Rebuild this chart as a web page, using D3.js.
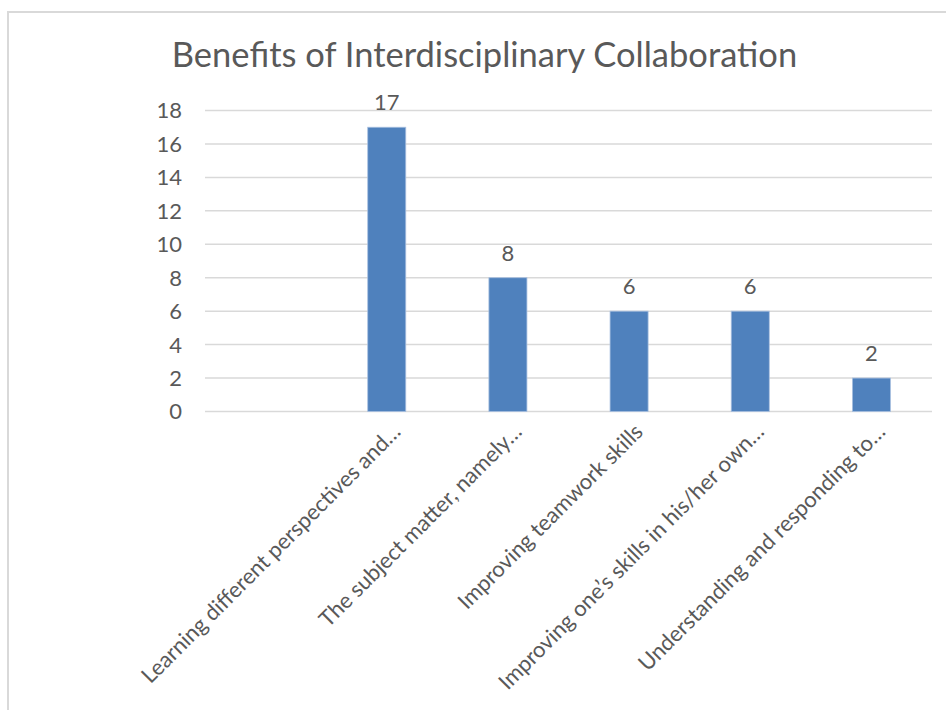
<!DOCTYPE html>
<html>
<head>
<meta charset="utf-8">
<script src="https://cdn.jsdelivr.net/npm/d3@7"></script>
<style>
  html, body { margin: 0; padding: 0; background: #fff; }
  svg { display: block; }
  text { font-family: Lato, "Open Sans", "Liberation Sans", sans-serif; fill: #595959; }
</style>
</head>
<body>
<svg id="chart" width="946" height="710"></svg>
<script>
const title = "Benefits of Interdisciplinary Collaboration";
const categories = [
  "",
  "Learning different perspectives and…",
  "The subject matter, namely…",
  "Improving teamwork skills",
  "Improving one’s skills in his/her own…",
  "Understanding and responding to…"
];
const values = [null, 17, 8, 6, 6, 2];
const yTicks = [0, 2, 4, 6, 8, 10, 12, 14, 16, 18];

const svg = d3.select("#chart");

// chart frame
svg.append("path")
  .attr("d", "M8,712 L8,12 L950,12")
  .attr("fill", "none")
  .attr("stroke", "#d9d9d9")
  .attr("stroke-width", 2);

const plot = { left: 205, right: 932, top: 110.5, bottom: 411.5 };

const x = d3.scaleBand()
  .domain(categories.map((d, i) => i))
  .range([plot.left, plot.right])
  .paddingInner(0.686)
  .paddingOuter(0.343);

const y = d3.scaleLinear()
  .domain([0, 18])
  .range([plot.bottom, plot.top]);

// gridlines
svg.append("g")
  .selectAll("line")
  .data(yTicks)
  .join("line")
  .attr("x1", plot.left)
  .attr("x2", plot.right)
  .attr("y1", d => y(d))
  .attr("y2", d => y(d))
  .attr("stroke", "#d9d9d9")
  .attr("stroke-width", 1.5);

// y tick labels
svg.append("g")
  .selectAll("text")
  .data(yTicks)
  .join("text")
  .attr("x", 182)
  .attr("y", d => y(d))
  .attr("dy", "0.36em")
  .attr("text-anchor", "end")
  .attr("font-size", 22)
  .text(d => d);

const data = categories.map((c, i) => ({ c, i, v: values[i] }));

// bars
svg.append("g")
  .selectAll("rect")
  .data(data.filter(d => d.v != null))
  .join("rect")
  .attr("x", d => x(d.i))
  .attr("width", x.bandwidth())
  .attr("y", d => y(d.v))
  .attr("height", d => y(0) - y(d.v))
  .attr("fill", "#4f81bd")
  .attr("stroke", "#a9c0e0")
  .attr("stroke-width", 0.8);

// value labels
svg.append("g")
  .selectAll("text")
  .data(data.filter(d => d.v != null))
  .join("text")
  .attr("x", d => x(d.i) + x.bandwidth() / 2)
  .attr("y", d => y(d.v) - 17)
  .attr("text-anchor", "middle")
  .attr("font-size", 22)
  .text(d => d.v);

// category labels
svg.append("g")
  .selectAll("text")
  .data(data)
  .join("text")
  .attr("transform", d => `translate(${x(d.i) + x.bandwidth() / 2 + 3.6},${plot.bottom + 10})rotate(-45)`)
  .attr("dy", "0.75em")
  .attr("text-anchor", "end")
  .attr("font-size", 22)
  .text(d => d.c);

// title
svg.append("text")
  .attr("x", 484.5)
  .attr("y", 67)
  .attr("text-anchor", "middle")
  .attr("font-size", 34.5)
  .text(title);
</script>
</body>
</html>
